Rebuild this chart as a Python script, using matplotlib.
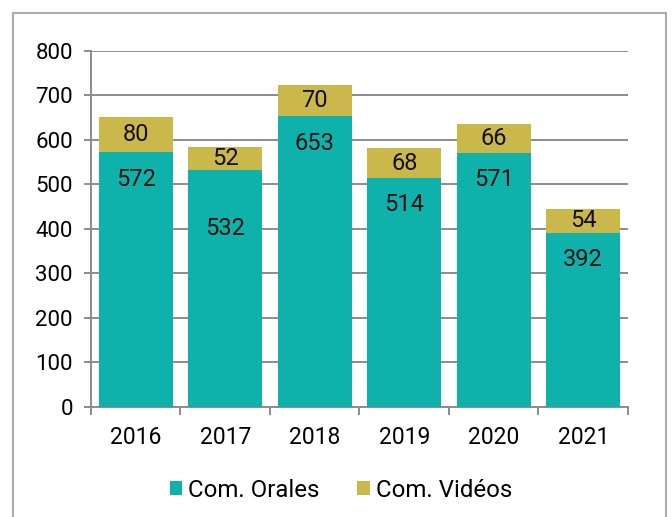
import matplotlib
matplotlib.use("Agg")
import matplotlib.pyplot as plt
from matplotlib.patches import Rectangle
import numpy as np

years = ["2016", "2017", "2018", "2019", "2020", "2021"]
orales = [572, 532, 653, 514, 571, 392]
videos = [80, 52, 70, 68, 66, 54]

teal = "#0EB2AA"
gold = "#CBB84B"
grid = "#8C8C8C"

fam = ['Roboto', 'DejaVu Sans']
plt.rcParams['font.family'] = fam
FONT = dict(family=fam)

fig = plt.figure(figsize=(6.72, 5.17), dpi=100)
ax = fig.add_axes([0.1354, 0.2128, 0.7991, 0.6886])

x = np.arange(len(years))
w = 0.83
ax.bar(x, orales, w, color=teal, zorder=3, label="Com. Orales")
ax.bar(x, videos, w, bottom=orales, color=gold, zorder=3, label="Com. Vidéos")

ax.set_xlim(-0.5, len(years) - 0.5)
ax.set_ylim(0, 800)
ax.set_yticks(range(0, 801, 100))
ax.yaxis.grid(True, color=grid, linewidth=1.4, zorder=0)
ax.set_axisbelow(True)

for s in ['top', 'right']:
    ax.spines[s].set_visible(False)
ax.spines['left'].set_color(grid)
ax.spines['left'].set_linewidth(1.4)
ax.spines['bottom'].set_color(grid)
ax.spines['bottom'].set_linewidth(1.4)

ax.tick_params(axis='y', length=5, width=1.4, color=grid, pad=8)
ax.set_yticklabels([str(v) for v in range(0, 801, 100)], fontdict=FONT, fontsize=16)
ax.set_xticks(x)
ax.set_xticklabels(years, fontdict=FONT, fontsize=16.5)
ax.tick_params(axis='x', length=0, pad=14)
ax.set_xticks(np.arange(-0.5, len(years), 1), minor=True)
ax.tick_params(axis='x', which='minor', length=6, width=1.4, color=grid)

for i, (o, v) in enumerate(zip(orales, videos)):
    ypos = o - 60
    if i == 1:
        ypos = o - 130
    ax.text(i, ypos, str(o), ha='center', va='center', fontsize=17, color='#111111', zorder=4, **FONT)
    ax.text(i, o + v / 2, str(v), ha='center', va='center', fontsize=17, color='#111111', zorder=4, **FONT)

leg = fig.legend(loc='center', bbox_to_anchor=(0.507, 0.052), ncol=2, frameon=False,
                 handlelength=0.5, handleheight=0.5, handletextpad=0.25, columnspacing=1.6,
                 prop=dict(family=fam, size=17.3))

fig.patches.append(Rectangle((13 / 672, -0.1), 653 / 672, 1.1 - 13 / 517, transform=fig.transFigure,
                             fill=False, edgecolor='#ABABAB', linewidth=1.5, zorder=0))

fig.savefig("out.png", dpi=100)
